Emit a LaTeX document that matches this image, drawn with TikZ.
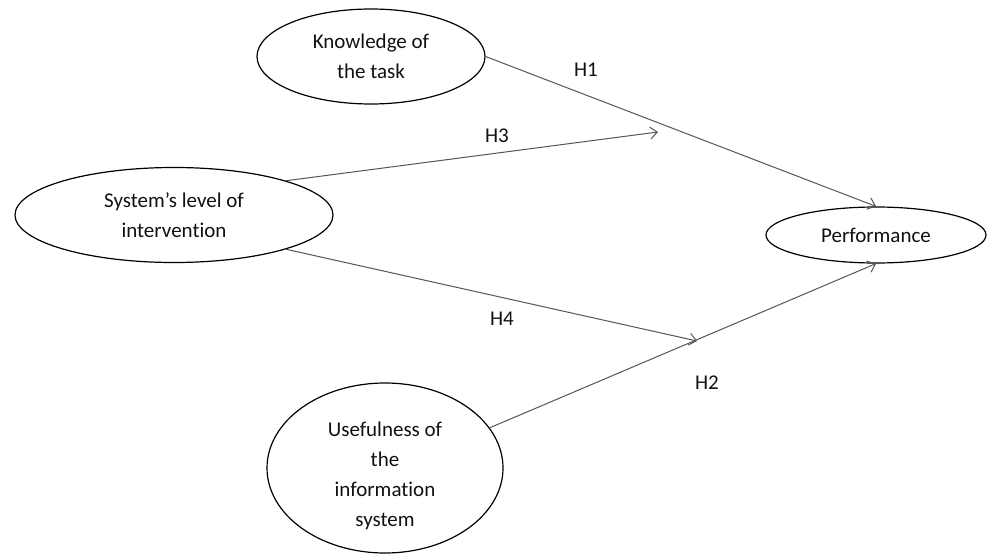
\documentclass[tikz,border=0pt]{standalone}
\usepackage{fontspec}
\setmainfont{Carlito}[Ligatures=NoCommon]
\usetikzlibrary{shapes.geometric,arrows.meta}
\definecolor{txt}{HTML}{111111}
\definecolor{lin}{HTML}{555555}
\tikzset{
  construct/.style={draw=black, line width=1.2pt, ellipse, inner sep=0pt, align=center,
    text=txt, font=\fontsize{21}{30}\selectfont},
  path/.style={draw=lin, line width=1pt, -{Straight Barb[length=7pt,width=12pt]}},
  hyp/.style={text=txt, font=\fontsize{21}{24}\selectfont, inner sep=0pt}
}
\begin{document}
\begin{tikzpicture}[x=1pt,y=-1pt]
\useasboundingbox (0,0) rectangle (992,556);
\node[construct, minimum width=228pt, minimum height=95pt] (know) at (371,56.5) {Knowledge of\\the task};
\node[construct, minimum width=318pt, minimum height=95pt] (sys) at (174,215) {System’s level of\\intervention};
\node[construct, minimum width=220pt, minimum height=56pt] (perf) at (876,235) {Performance};
\node[construct, minimum width=236pt, minimum height=170pt] (use) at (385,468) {};
\node[construct, draw=none] (usetext) at ([yshift=-8pt]use.center) {Usefulness of\\the\\information\\system};
\coordinate (h3end) at (658,132);
\coordinate (h4end) at (697,341);
\draw[path] (know.east) -- (perf.north);
\draw[path] (sys.17) -- (h3end);
\draw[path] (sys.-17) -- (h4end);
\draw[path] (use.21) -- (perf.south);
\node[hyp] (h1) at (586,70) {H1};
\node[hyp] (h3) at (497,136) {H3};
\node[hyp] (h4) at (502,319) {H4};
\node[hyp] (h2) at (707,383) {H2};
\end{tikzpicture}
\end{document}
